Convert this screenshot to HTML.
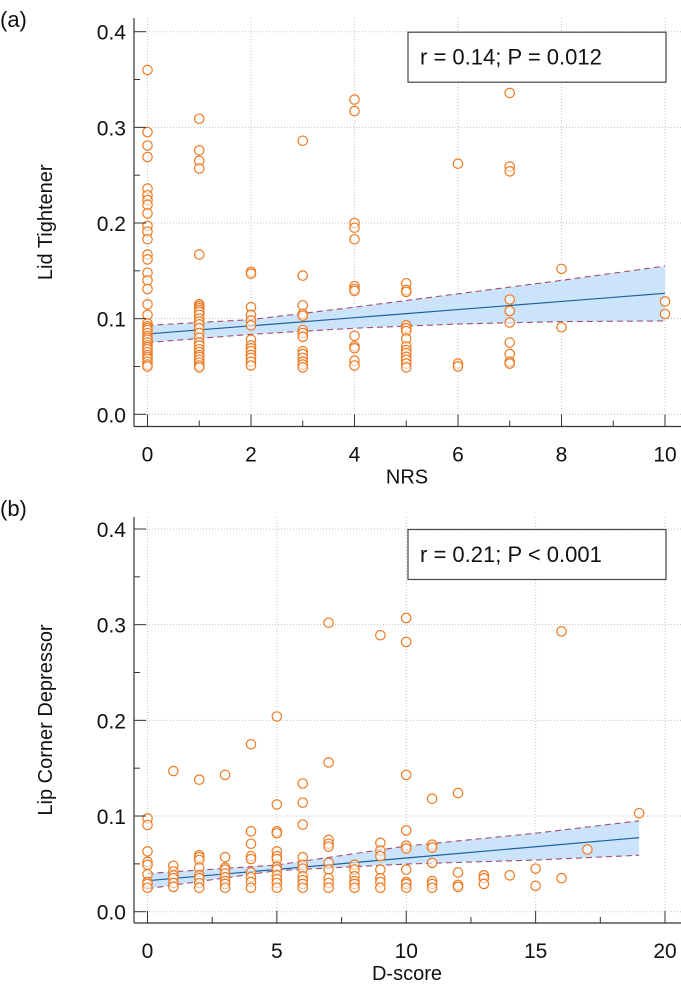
<!DOCTYPE html>
<html><head><meta charset="utf-8"><style>
body{margin:0;background:#fff;}
svg text{font-family:"Liberation Sans",sans-serif;fill:#111;}
</style></head><body>
<svg id="chart" width="681" height="999" viewBox="0 0 681 999" xmlns="http://www.w3.org/2000/svg">
<text x="0" y="27" font-size="22">(a)</text>
<text x="0" y="516" font-size="22">(b)</text>
</svg>
<script>
// Panel A data
const aX = [0,1,2,3,4,5,6,7,8,10];
const aY = [
[0.360,0.295,0.281,0.269,0.236,0.229,0.224,0.219,0.210,0.197,0.191,0.183,0.167,0.162,0.148,0.140,0.131,0.115,0.104,0.095,0.092,0.090,0.088,0.085,0.082,0.080,0.078,0.075,0.072,0.070,0.068,0.065,0.062,0.060,0.058,0.055,0.052,0.050],
[0.309,0.276,0.265,0.257,0.167,0.115,0.113,0.111,0.109,0.107,0.104,0.100,0.097,0.094,0.090,0.085,0.080,0.075,0.072,0.068,0.065,0.062,0.060,0.057,0.054,0.051,0.049],
[0.149,0.147,0.112,0.104,0.098,0.093,0.078,0.072,0.069,0.066,0.062,0.059,0.055,0.051],
[0.286,0.145,0.114,0.105,0.103,0.088,0.085,0.081,0.066,0.063,0.059,0.055,0.052,0.049],
[0.329,0.317,0.200,0.195,0.183,0.134,0.131,0.129,0.082,0.071,0.069,0.056,0.051],
[0.137,0.130,0.128,0.093,0.090,0.087,0.079,0.071,0.067,0.064,0.060,0.057,0.053,0.049],
[0.262,0.053,0.050],
[0.336,0.259,0.254,0.120,0.108,0.096,0.075,0.063,0.055,0.053],
[0.152,0.091],
[0.118,0.105]
];
const aFitX = [0,2,4,6,8,10];
const aFit = [0.084,0.0925,0.101,0.1095,0.118,0.1265];
const aUpper = [0.093,0.099,0.112,0.126,0.140,0.155];
const aLower = [0.075,0.0836,0.090,0.0944,0.0969,0.0976];
const aXTicks = [0,2,4,6,8,10];
const aYTicks = [0.0,0.1,0.2,0.3,0.4];
// Panel B data
const bX = [0,1,2,3,4,5,6,7,8,9,10,11,12,13,14,15,16,17,19];
const bY = [
[0.0976,0.0906,0.063,0.052,0.049,0.039,0.031,0.029,0.025],
[0.147,0.048,0.042,0.038,0.035,0.030,0.026],
[0.138,0.059,0.057,0.054,0.046,0.038,0.035,0.030,0.025],
[0.143,0.057,0.046,0.044,0.040,0.036,0.032,0.029,0.025],
[0.175,0.084,0.071,0.058,0.055,0.041,0.036,0.031,0.025],
[0.204,0.112,0.084,0.082,0.063,0.058,0.055,0.047,0.044,0.038,0.034,0.030,0.025],
[0.134,0.114,0.091,0.057,0.049,0.045,0.037,0.033,0.029,0.025],
[0.302,0.156,0.075,0.071,0.068,0.051,0.044,0.035,0.030,0.025],
[0.049,0.044,0.037,0.032,0.029,0.025],
[0.289,0.072,0.064,0.058,0.044,0.035,0.031,0.025],
[0.307,0.282,0.143,0.085,0.069,0.066,0.044,0.031,0.029,0.025],
[0.118,0.070,0.067,0.051,0.032,0.029,0.025],
[0.124,0.041,0.028,0.026],
[0.038,0.035,0.029],
[0.038],
[0.045,0.027],
[0.293,0.035],
[0.065],
[0.103]
];
const bFitX = [0,5,10,15,19];
const bFit = [0.0324,0.0442,0.0561,0.0679,0.0774];
const bUpper = [0.040,0.0488,0.0686,0.082,0.095];
const bLower = [0.024,0.0429,0.0498,0.054,0.059];
const bXTicks = [0,5,10,15,20];
const bYTicks = [0.0,0.1,0.2,0.3,0.4];

const NS="http://www.w3.org/2000/svg";
const svg=document.getElementById('chart');
function mk(tag,attrs,parent){const e=document.createElementNS(NS,tag);for(const k in attrs)e.setAttribute(k,attrs[k]);(parent||svg).appendChild(e);return e;}

function panel(cfg){
  const g=mk('g',{});
  
  
  const sx=v=>cfg.x0+(v-cfg.xmin)/(cfg.xmax-cfg.xmin)*(cfg.x1-cfg.x0);
  const sy=v=>cfg.y0+(v-0)/(0.4)*(cfg.y1-cfg.y0);
  cfg.xTicks.forEach(t=>{const l=mk('line',{x1:sx(t),x2:sx(t),y1:cfg.top,y2:cfg.bottom,stroke:'#c4c4c4','stroke-width':1,'stroke-dasharray':'1,2'},g);
    });
  cfg.yTicks.forEach(t=>{const l=mk('line',{x1:cfg.left,x2:681,y1:sy(t),y2:sy(t),stroke:'#c4c4c4','stroke-width':1,'stroke-dasharray':'1,2'},g);
    });
  let d='';
  cfg.fitX.forEach((x,i)=>{d+=(i?'L':'M')+sx(x)+','+sy(cfg.upper[i]);});
  for(let i=cfg.fitX.length-1;i>=0;i--)d+='L'+sx(cfg.fitX[i])+','+sy(cfg.lower[i]);
  const band=mk('path',{d:d+'Z',fill:'#cce4fb',stroke:'none'},g);
  
  const pl=(arr,attrs,name)=>{const p=mk('polyline',Object.assign({points:cfg.fitX.map((x,i)=>sx(x)+','+sy(arr[i])).join(' '),fill:'none'},attrs),g);
    };
  pl(cfg.upper,{stroke:'#a0506a','stroke-width':1.1,'stroke-dasharray':'6,4'},'upper-ci-line');
  pl(cfg.lower,{stroke:'#a0506a','stroke-width':1.1,'stroke-dasharray':'6,4'},'lower-ci-line');
  pl(cfg.fit,{stroke:'#1f5f9a','stroke-width':1.2},'regression-line');
  cfg.xs.forEach((x,i)=>cfg.ys[i].forEach(y=>{const c=mk('circle',{cx:sx(x),cy:sy(y),r:4.7,fill:'#fff','fill-opacity':0.6,stroke:'#ee7a22','stroke-width':1.2},g);
    }));
  const ax=mk('line',{x1:cfg.left,x2:cfg.left,y1:cfg.top,y2:cfg.bottom,stroke:'#333','stroke-width':1.2},g);
  
  const bx=mk('line',{x1:cfg.left,x2:681,y1:cfg.bottom,y2:cfg.bottom,stroke:'#333','stroke-width':1.2},g);
  
  for(let v=0;v<=0.4001;v+=0.05){const major=Math.abs(v*10-Math.round(v*10))<1e-6;
    const l=mk('line',{x1:cfg.left,x2:cfg.left+(major?12:6),y1:sy(v),y2:sy(v),stroke:'#333','stroke-width':1},g);
    }
  cfg.yTicks.forEach(t=>{const tx=mk('text',{x:cfg.left-8,y:sy(t)+8,'font-size':21,'text-anchor':'end'},g);tx.textContent=t.toFixed(1);
    });
  const step=cfg.xTicks[1]-cfg.xTicks[0];
  for(let v=cfg.xmin;v<=cfg.xmax+1e-6;v+=step/2){const major=Math.abs(v/step-Math.round(v/step))<1e-6;
    const l=mk('line',{x1:sx(v),x2:sx(v),y1:cfg.bottom,y2:cfg.bottom-(major?12:6),stroke:'#333','stroke-width':1},g);
    }
  cfg.xTicks.forEach(t=>{const tx=mk('text',{x:sx(t),y:cfg.bottom+35,'font-size':21,'text-anchor':'middle'},g);tx.textContent=t;
    });
  const xt=mk('text',{x:407,y:cfg.bottom+57,'font-size':20,'text-anchor':'middle'},g);xt.textContent=cfg.xTitle;
  
  const cy=(cfg.top+cfg.bottom)/2;
  const yt=mk('text',{x:52,y:cy,'font-size':20,'text-anchor':'middle',transform:'rotate(-90 52 '+cy+')'},g);yt.textContent=cfg.yTitle;
  
  const lb=mk('rect',{x:408,y:sy(0.4)+0.5,width:258,height:50,fill:'#fff',stroke:'#444','stroke-width':1.2},g);
  
  const lt=mk('text',{x:420,y:sy(0.4)+33,'font-size':22},g);lt.textContent=cfg.stat;
  
}
panel({name:'panel-a-chart',xs:aX,ys:aY,fitX:aFitX,fit:aFit,upper:aUpper,lower:aLower,xTicks:aXTicks,yTicks:aYTicks,
  xmin:0,xmax:10,x0:147.5,x1:665,y0:414.3,y1:31.7,left:134,top:18,bottom:426.5,xTitle:'NRS',yTitle:'Lid Tightener',stat:'r = 0.14; P = 0.012'});
panel({name:'panel-b-chart',xs:bX,ys:bY,fitX:bFitX,fit:bFit,upper:bUpper,lower:bLower,xTicks:bXTicks,yTicks:bYTicks,
  xmin:0,xmax:20,x0:147.5,x1:665,y0:911.7,y1:529,left:134,top:517,bottom:923,xTitle:'D-score',yTitle:'Lip Corner Depressor',stat:'r = 0.21; P < 0.001'});
</script>
</body></html>
